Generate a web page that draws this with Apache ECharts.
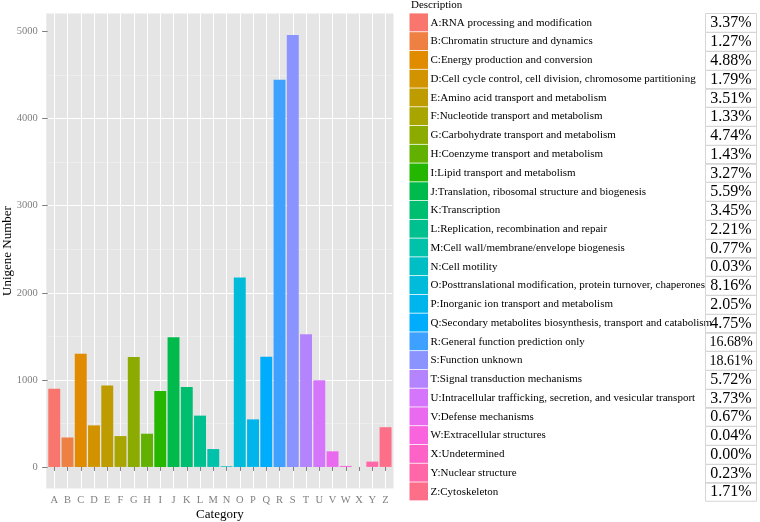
<!DOCTYPE html>
<html><head><meta charset="utf-8">
<script src="https://cdn.jsdelivr.net/npm/echarts@6/dist/echarts.min.js"></script>
<style>html,body{margin:0;padding:0;background:#fff}#chart{width:760px;height:522px}</style>
</head><body><div id="chart"></div>
<script>
const categories = ['A','B','C','D','E','F','G','H','I','J','K','L','M','N','O','P','Q','R','S','T','U','V','W','X','Y','Z'];
const values = [898, 338, 1301, 477, 935, 354, 1263, 381, 872, 1490, 919, 589, 205, 8, 2175, 546, 1266, 4446, 4960, 1524, 994, 179, 11, 0, 61, 456];
const descriptions = [
  'A:RNA processing and modification',
  'B:Chromatin structure and dynamics',
  'C:Energy production and conversion',
  'D:Cell cycle control, cell division, chromosome partitioning',
  'E:Amino acid transport and metabolism',
  'F:Nucleotide transport and metabolism',
  'G:Carbohydrate transport and metabolism',
  'H:Coenzyme transport and metabolism',
  'I:Lipid transport and metabolism',
  'J:Translation, ribosomal structure and biogenesis',
  'K:Transcription',
  'L:Replication, recombination and repair',
  'M:Cell wall/membrane/envelope biogenesis',
  'N:Cell motility',
  'O:Posttranslational modification, protein turnover, chaperones',
  'P:Inorganic ion transport and metabolism',
  'Q:Secondary metabolites biosynthesis, transport and catabolism',
  'R:General function prediction only',
  'S:Function unknown',
  'T:Signal transduction mechanisms',
  'U:Intracellular trafficking, secretion, and vesicular transport',
  'V:Defense mechanisms',
  'W:Extracellular structures',
  'X:Undetermined',
  'Y:Nuclear structure',
  'Z:Cytoskeleton'
];
const percents = ['3.37%','1.27%','4.88%','1.79%','3.51%','1.33%','4.74%','1.43%','3.27%','5.59%','3.45%','2.21%','0.77%','0.03%','8.16%','2.05%','4.75%','16.68%','18.61%','5.72%','3.73%','0.67%','0.04%','0.00%','0.23%','1.71%'];
const colors = ['#F8766D','#EE8044','#E08B00','#D19300','#BE9C00','#A8A400','#8BAB00','#62B100','#25B700','#00BB4B','#00BE70','#00C08F','#00C1AA','#00BFC4','#00BBDA','#00B5EC','#00ACFC','#3FA1FF','#8B93FF','#B484FF','#D475FC','#EA6AEF','#F963DD','#FD62C6','#FF67A8','#FD6E88'];
const yTicks = [0, 1000, 2000, 3000, 4000, 5000];

const FONT = '"Liberation Serif", "Times New Roman", serif';
const panel = {x: 46.3, y: 13.5, w: 347.2, h: 475};
const band = panel.w / 26.2;
const rowH = 18.76, legTop = 13.4;

const graphics = [];
graphics.push({type: 'rect', z: -10, silent: true,
  shape: {x: panel.x, y: panel.y, width: panel.w, height: panel.h},
  style: {fill: '#E5E5E5'}});
graphics.push({type: 'text', x: 411, y: 5, style: {text: 'Description', fontFamily: FONT, fontSize: 11, fill: '#000', align: 'left', verticalAlign: 'middle', textAlign: 'left', textVerticalAlign: 'middle'}});
descriptions.forEach((d, i) => {
  const y = legTop + i * rowH;
  graphics.push({type: 'rect', shape: {x: 409.5, y: y, width: 18.5, height: rowH - 0.8}, style: {fill: colors[i]}});
  graphics.push({type: 'text', x: 430.5, y: y + rowH / 2, style: {text: d, fontFamily: FONT, fontSize: 11, fill: '#000', align: 'left', verticalAlign: 'middle', textAlign: 'left', textVerticalAlign: 'middle'}});
  graphics.push({type: 'rect', shape: {x: 705.5, y: Math.round(y) + 0.5, width: 51, height: rowH}, style: {fill: 'none', stroke: '#D6D6D6', lineWidth: 1}});
  graphics.push({type: 'text', x: 731, y: y + rowH / 2 + 0.5, style: {text: percents[i], fontFamily: FONT, fontSize: percents[i].length > 5 ? 14 : 16, fill: '#000', align: 'center', verticalAlign: 'middle', textAlign: 'center', textVerticalAlign: 'middle'}});
});

const chart = echarts.init(document.getElementById('chart'), null, {renderer: 'canvas'});
chart.setOption({
  backgroundColor: '#fff',
  animation: false,
  textStyle: {fontFamily: FONT},
  grid: {left: panel.x + band * 0.1, right: 760 - (panel.x + panel.w - band * 0.1), top: panel.y, bottom: 522 - (panel.y + panel.h), containLabel: false, outerBoundsMode: 'none'},
  xAxis: {
    type: 'category', data: categories,
    name: 'Category', nameLocation: 'middle', nameGap: 20, nameMoveOverlap: false,
    nameTextStyle: {fontFamily: FONT, fontSize: 13, color: '#000'},
    axisLine: {show: false},
    axisTick: {show: true, alignWithLabel: true, length: 4, lineStyle: {color: '#7F7F7F', width: 1}},
    axisLabel: {color: '#7F7F7F', fontFamily: FONT, fontSize: 10.5, margin: 6, interval: 0},
    splitLine: {show: true, alignWithLabel: true, lineStyle: {color: '#FFFFFF', width: 1}}
  },
  yAxis: {
    type: 'value', min: -248, max: 5208,
    name: 'Unigene Number', nameLocation: 'middle', nameGap: 34, nameRotate: 90, nameMoveOverlap: false,
    nameTextStyle: {fontFamily: FONT, fontSize: 13, color: '#000'},
    axisLine: {show: false},
    axisTick: {show: true, length: 5.5, customValues: yTicks, lineStyle: {color: '#7F7F7F', width: 1}},
    axisLabel: {color: '#7F7F7F', fontFamily: FONT, fontSize: 10.5, margin: 10, customValues: yTicks, formatter: v => String(v)},
    splitLine: {show: true, showMinLine: false, showMaxLine: false, lineStyle: {color: '#FFFFFF', width: 1}},
    minorTick: {show: false, splitNumber: 2},
    minorSplitLine: {show: true, lineStyle: {color: '#F2F2F2', width: 0.6}}
  },
  series: [{
    type: 'bar',
    barCategoryGap: '10%',
    data: values.map((v, i) => ({value: v, itemStyle: {color: colors[i]}})),
    z: 3
  }],
  graphic: graphics
});
</script></body></html>
